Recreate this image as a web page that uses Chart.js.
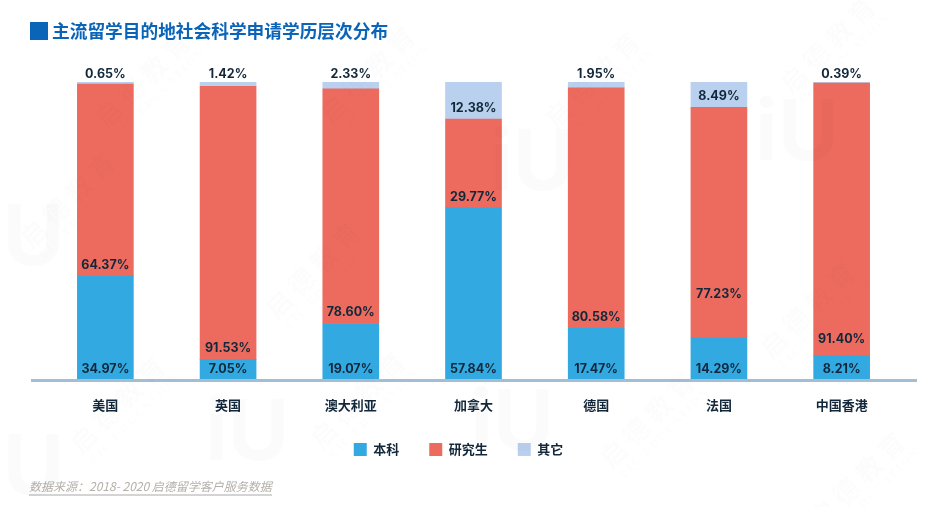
<!DOCTYPE html>
<html lang="zh">
<head>
<meta charset="utf-8">
<title>主流留学目的地社会科学申请学历层次分布</title>
<script src="https://cdn.jsdelivr.net/npm/chart.js@4"></script>
<style>
  html, body { margin: 0; padding: 0; background: #fff; }
  #wrap { position: relative; width: 949px; height: 507px; overflow: hidden; font-family: "Noto Sans CJK SC", sans-serif; }
  #chart { position: absolute; left: 0; top: 0; }
  #mark { position: absolute; left: 30px; top: 22px; width: 18px; height: 18px; background: #0a64b8; }
  #titulo { position: absolute; left: 52px; top: 17px; font-size: 17.7px; line-height: 26px; font-weight: 700; color: #0a64b8; white-space: nowrap; }
  #fuente { position: absolute; left: 29px; top: 478px; font-size: 12px; line-height: 16px; font-style: italic; color: #b5b0ab; border-bottom: 2px solid #d4d4d4; white-space: nowrap; }
  /* marca de agua */
  .wm { position: absolute; pointer-events: none; color: rgba(0,0,0,.012); white-space: nowrap; font-weight: 700; }
  .wm.txt { font-size: 26px; line-height: 30px; text-align: center; transform: rotate(-45deg); letter-spacing: 6px; }
  .wm.txt span { display: block; font-size: 12px; line-height: 15px; letter-spacing: 2px; font-family: "Liberation Serif", serif; }
  .wm.iu { font-family: "Inter", sans-serif; font-size: 84px; line-height: 90px; color: rgba(0,0,0,.016); }
</style>
</head>
<body>
<div id="wrap">
  <canvas id="chart" width="949" height="507"></canvas>
  <div id="mark"></div>
  <div id="titulo">主流留学目的地社会科学申请学历层次分布</div>
  <div id="fuente">数据来源：2018- 2020 启德留学客户服务数据</div>

  <div class="wm iu" style="left:-20px;top:190px">iU</div>
  <div class="wm iu" style="left:205px;top:385px">iU</div>
  <div class="wm iu" style="left:490px;top:115px">iU</div>
  <div class="wm iu" style="left:470px;top:375px">iU</div>
  <div class="wm iu" style="left:755px;top:85px">iU</div>
  <div class="wm iu" style="left:-20px;top:420px">iU</div>
  <div class="wm txt" style="left:85px;top:60px">启德教育<span>EIC EDUCATION</span></div>
  <div class="wm txt" style="left:310px;top:55px">启德教育<span>EIC EDUCATION</span></div>
  <div class="wm txt" style="left:535px;top:60px">启德教育<span>EIC EDUCATION</span></div>
  <div class="wm txt" style="left:770px;top:25px">启德教育<span>EIC EDUCATION</span></div>
  <div class="wm txt" style="left:10px;top:180px">启德教育<span>EIC EDUCATION</span></div>
  <div class="wm txt" style="left:255px;top:250px">启德教育<span>EIC EDUCATION</span></div>
  <div class="wm txt" style="left:750px;top:290px">启德教育<span>EIC EDUCATION</span></div>
  <div class="wm txt" style="left:60px;top:385px">启德教育<span>EIC EDUCATION</span></div>
  <div class="wm txt" style="left:300px;top:380px">启德教育<span>EIC EDUCATION</span></div>
  <div class="wm txt" style="left:590px;top:400px">启德教育<span>EIC EDUCATION</span></div>
  <div class="wm txt" style="left:800px;top:460px">启德教育<span>EIC EDUCATION</span></div>
</div>
<script>
// === Datos ===
const paises = ['美国', '英国', '澳大利亚', '加拿大', '德国', '法国', '中国香港'];
const benke = [34.97, 7.05, 19.07, 57.84, 17.47, 14.29, 8.21];
const yanjiusheng = [64.37, 91.53, 78.60, 29.77, 80.58, 77.23, 91.40];
const qita = [0.65, 1.42, 2.33, 12.38, 1.95, 8.49, 0.39];

const COLOR_TEXTO = '#12283a';
const FUENTE_NUM = '"Inter", sans-serif';
const FUENTE_CJK = '"Noto Sans CJK SC", sans-serif';

// Algunas etiquetas del original no van pegadas a la base: "dataset:indice" -> px desde la base
const alturaEtiqueta = { '1:5': 44, '1:6': 17 };

// Etiquetas de cada segmento, pegadas a la base del segmento
// (salvo los segmentos muy pequenos, que van encima de la barra)
const etiquetas = {
  id: 'etiquetas',
  afterDatasetsDraw(chart) {
    const { ctx } = chart;
    ctx.save();
    ctx.font = '700 12.5px ' + FUENTE_NUM;
    ctx.fillStyle = COLOR_TEXTO;
    ctx.textAlign = 'center';
    ctx.textBaseline = 'middle';
    chart.data.datasets.forEach((ds, d) => {
      const meta = chart.getDatasetMeta(d);
      meta.data.forEach((bar, i) => {
        const v = ds.data[i];
        const alto = bar.base - bar.y;
        let y = bar.base - (alturaEtiqueta[d + ':' + i] || 11);
        if (alto < 10) y = bar.y - 8;
        ctx.fillText(v.toFixed(2) + '%', bar.x, y);
      });
    });
    ctx.restore();
  }
};

// Linea base: sobresale del area del grafico por los dos lados
const lineaBase = {
  id: 'lineaBase',
  afterDatasetsDraw(chart) {
    const { ctx, chartArea } = chart;
    ctx.save();
    ctx.strokeStyle = '#a3bdd3';
    ctx.lineWidth = 3;
    ctx.beginPath();
    ctx.moveTo(31, chartArea.bottom);
    ctx.lineTo(917, chartArea.bottom);
    ctx.stroke();
    ctx.restore();
  }
};

// La leyenda del original no esta centrada con el grafico
const moverLeyenda = {
  id: 'moverLeyenda',
  beforeDraw(chart) {
    chart.legend.left = -16;
    chart.legend.right = 933;
    chart.legend.top = 413;
  }
};

new Chart(document.getElementById('chart'), {
  type: 'bar',
  data: {
    labels: paises,
    datasets: [
      { label: '本科', data: benke, backgroundColor: '#33a9e2' },
      { label: '研究生', data: yanjiusheng, backgroundColor: '#ec6b5e' },
      { label: '其它', data: qita, backgroundColor: '#b9d0ee' }
    ]
  },
  options: {
    responsive: false,
    animation: false,
    layout: { padding: { left: 44, right: 46, top: 82, bottom: 32 } },
    datasets: { bar: { barThickness: 56 } },
    scales: {
      x: {
        stacked: true,
        grid: { display: false },
        border: { display: false },
        ticks: { color: COLOR_TEXTO, font: { family: FUENTE_CJK, size: 13, weight: '700' }, padding: 9, maxRotation: 0 }
      },
      y: { stacked: true, display: false, min: 0, max: 100 }
    },
    plugins: {
      tooltip: { enabled: false },
      legend: {
        position: 'bottom',
        labels: {
          boxWidth: 13, boxHeight: 13, padding: 30, color: COLOR_TEXTO,
          font: { family: FUENTE_CJK, size: 13, weight: '700' }
        }
      }
    }
  },
  plugins: [etiquetas, lineaBase, moverLeyenda]
});
</script>
</body>
</html>
